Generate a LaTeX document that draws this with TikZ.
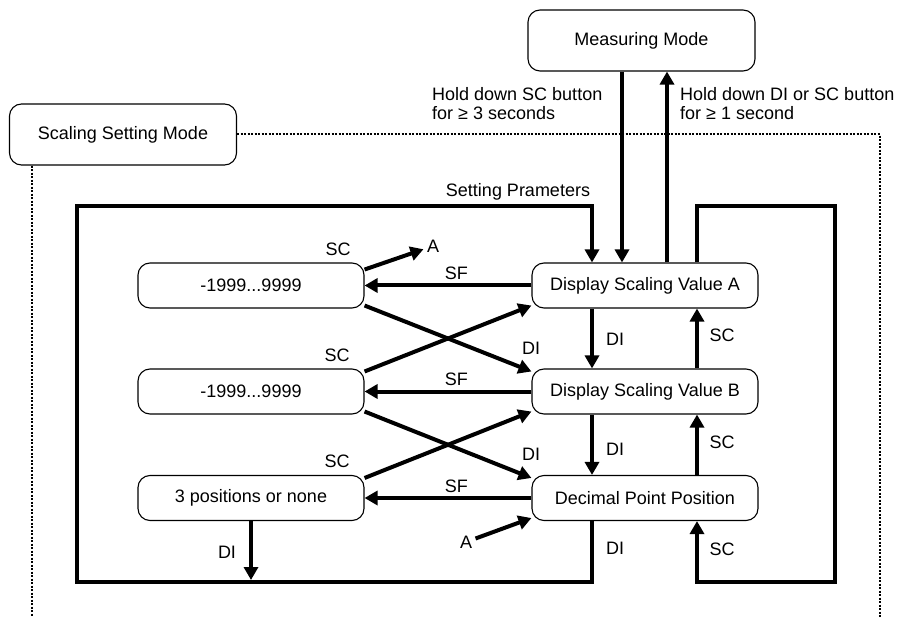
\documentclass[tikz,border=0pt]{standalone}
\usepackage{fontspec}
\setmainfont{Liberation Sans}
\usetikzlibrary{arrows.meta}

\tikzset{
  modebox/.style={draw, line width=1.1pt, rounded corners=12pt,
    minimum width=227pt, minimum height=61pt, inner sep=0pt},
  stbox/.style={draw, line width=1.1pt, rounded corners=12pt,
    minimum width=226pt, minimum height=45pt, inner sep=0pt},
  flow/.style={line width=4pt, -{Triangle[length=13pt,width=14pt]}},
  guide/.style={line width=2pt, dash pattern=on 2pt off 1.5pt},
}

\begin{document}
\begin{tikzpicture}[x=1pt,y=-1pt,font=\fontsize{18}{19}\selectfont]
  \useasboundingbox (0,0) rectangle (904,617);

  % modes
  \node[modebox] (mm)  at (641.5,40.5) {Measuring Mode};
  \node[modebox] (ssm) at (123,134.5)  {Scaling Setting Mode};

  % parameters and their values
  \node[stbox] (dsa) at (645,285.5) {Display Scaling Value A};
  \node[stbox] (dsb) at (645,391.5) {Display Scaling Value B};
  \node[stbox] (dpp) at (645,498)   {Decimal Point Position};
  \node[stbox] (va)  at (251,285.5) {-1999...9999};
  \node[stbox] (vb)  at (251,391.5) {-1999...9999};
  \node[stbox] (dp)  at (251,498)   {3 positions or none};

  % columns and corners
  \coordinate (cdi)  at (592,0);
  \coordinate (csc)  at (697,0);
  \coordinate (cin)  at (622,0);
  \coordinate (cout) at (667,0);
  \coordinate (lt)   at (77,206);
  \coordinate (lb)   at (77,582);
  \coordinate (lbi)  at (77,580);
  \coordinate (rt)   at (835,206);
  \coordinate (rb)   at (835,582);
  \coordinate (gl)   at (32,617);
  \coordinate (gr)   at (880,617);

  % dotted frame
  \draw[guide] (ssm.east) -- (ssm.east -| gr) -- (gr);
  \draw[guide] (ssm.south -| gl) -- (gl);

  % mode change
  \draw[flow] (mm.south -| cin) -- (dsa.north -| cin);
  \draw[flow] (dsa.north -| cout) -- (mm.south -| cout);
  \node[anchor=north west, align=left, inner sep=0pt] (hold3) at (432,87)
    {Hold down SC button\\for ≥ 3 seconds};
  \node[anchor=north west, align=left, inner sep=0pt] (hold1) at (680,87)
    {Hold down DI or SC button\\for ≥ 1 second};

  % loops
  \draw[flow] (dpp.south -| cdi) -- (cdi |- lb) -- (lb) -- (lt) -- (lt -| cdi)
    -- (dsa.north -| cdi);
  \draw[flow] (dsa.north -| csc) -- (csc |- rt) -- (rt) -- (rb) -- (rb -| csc)
    -- (dpp.south -| csc);
  \node (setp) at (518,192) {Setting Prameters};

  % DI / SC steps
  \draw[flow] (dsa.south -| cdi) -- (dsb.north -| cdi);
  \draw[flow] (dsb.south -| cdi) -- (dpp.north -| cdi);
  \draw[flow] (dsb.north -| csc) -- (dsa.south -| csc);
  \draw[flow] (dpp.north -| csc) -- (dsb.south -| csc);
  \draw[flow] (dp.south) -- (dp.south |- lbi);
  \node (di1) at (615,339) {DI};
  \node (di2) at (615,449) {DI};
  \node (di3) at (615,548) {DI};
  \node (di4) at (227,552) {DI};
  \node (sc1) at (722,335) {SC};
  \node (sc2) at (722,442) {SC};
  \node (sc3) at (722,549) {SC};

  % set values
  \draw[flow] (dsa) -- node[above,pos=.45] (sf1) {SF} (va);
  \draw[flow] (dsb) -- node[above,pos=.45] (sf2) {SF} (vb);
  \draw[flow] (dpp) -- node[above,pos=.45] (sf3) {SF} (dp);

  % cross arrows
  \node (atop) at (433,246) {A};
  \node (abot) at (466,542) {A};
  \draw[flow] (va.8) -- (atop);
  \draw[flow] (va.-10) -- (dsb.170);
  \draw[flow] (vb.10) -- (dsa.-170);
  \draw[flow] (vb.-10) -- (dpp.170);
  \draw[flow] (dp.10) -- (dsb.-170);
  \draw[flow] (abot) -- (dpp.-170);
  \node (sc4) at (338,249) {SC};
  \node (sc5) at (337,355) {SC};
  \node (sc6) at (337,461) {SC};
  \node (di5) at (531,348) {DI};
  \node (di6) at (531,454) {DI};
\end{tikzpicture}
\end{document}
